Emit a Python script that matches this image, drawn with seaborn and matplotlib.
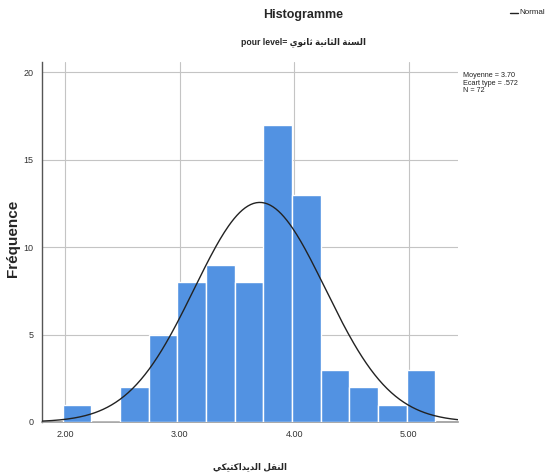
import numpy as np
import pandas as pd
import matplotlib
matplotlib.use("Agg")
import matplotlib.pyplot as plt
import seaborn as sns

# ---- data ----
bin_edges = [1.98, 2.23, 2.48, 2.73, 2.98, 3.23, 3.48, 3.73, 3.98, 4.23, 4.48, 4.73, 4.98, 5.23]
counts = [1, 0, 2, 5, 8, 9, 8, 17, 13, 3, 2, 1, 3]
mean_val = 3.70
sd_val = 0.572
n_val = 72
x_ticks = [2.0, 3.0, 4.0, 5.0]
x_tick_labels = ["2.00", "3.00", "4.00", "5.00"]
y_ticks = [0, 5, 10, 15, 20]
title = "Histogramme"
subtitle_latin = "pour level= "
subtitle_ar = "السنة الثانية ثانوي"
xlabel_ar = "النقل الديداكتيكي"
ylabel = "Fréquence"
legend_label = "Normal"

# ---- simple Arabic shaping (presentation forms, visual order) ----
DUAL = {
    'ب': 0xFE8F, 'ت': 0xFE95, 'ث': 0xFE99, 'ج': 0xFE9D, 'ح': 0xFEA1, 'خ': 0xFEA5,
    'س': 0xFEB1, 'ش': 0xFEB5, 'ص': 0xFEB9, 'ض': 0xFEBD, 'ط': 0xFEC1, 'ظ': 0xFEC5,
    'ع': 0xFEC9, 'غ': 0xFECD, 'ف': 0xFED1, 'ق': 0xFED5, 'ك': 0xFED9, 'ل': 0xFEDD,
    'م': 0xFEE1, 'ن': 0xFEE5, 'ه': 0xFEE9, 'ي': 0xFEF1,
}
RIGHT = {'ا': 0xFE8D, 'د': 0xFEA9, 'ذ': 0xFEAB, 'ر': 0xFEAD, 'ز': 0xFEAF,
         'و': 0xFEED, 'ة': 0xFE93}


def shape(text):
    chars = list(text)
    out = []
    i = 0
    prev_joins = False
    while i < len(chars):
        c = chars[i]
        nxt = chars[i + 1] if i + 1 < len(chars) else ''
        if c == 'ل' and nxt == 'ا':
            out.append(chr(0xFEFC if prev_joins else 0xFEFB))
            prev_joins = False
            i += 2
            continue
        if c in DUAL:
            base = DUAL[c]
            jn = nxt in DUAL or nxt in RIGHT
            if prev_joins and jn:
                f = base + 3
            elif prev_joins:
                f = base + 1
            elif jn:
                f = base + 2
            else:
                f = base
            out.append(chr(f))
            prev_joins = jn
        elif c in RIGHT:
            base = RIGHT[c]
            out.append(chr(base + 1 if prev_joins else base))
            prev_joins = False
        else:
            out.append(c)
            prev_joins = False
        i += 1
    return ''.join(reversed(out))


# ---- build table ----
edges = np.array(bin_edges)
centers = (edges[:-1] + edges[1:]) / 2
df = pd.DataFrame({"score": centers, "count": counts})
binw = edges[1] - edges[0]

sns.set_theme(style="white")
plt.rcParams['font.family'] = ['Liberation Sans', 'DejaVu Sans']

fig = plt.figure(figsize=(5.48, 4.75), dpi=100)
ax = fig.add_axes([0.0766, 0.1116, 0.836 - 0.0766, 0.869 - 0.1116])

sns.histplot(data=df, x="score", weights="count", bins=bin_edges, ax=ax,
             color="#5292e2", alpha=1.0, edgecolor="white", linewidth=1.0, zorder=3)

xs = np.linspace(1.80, 5.43, 300)
ys = n_val * binw * np.exp(-0.5 * ((xs - mean_val) / sd_val) ** 2) / (sd_val * np.sqrt(2 * np.pi))
sns.lineplot(x=xs, y=ys, ax=ax, color="#222222", linewidth=1.0, zorder=4)

ax.set_xlim(1.80, 5.43)
ax.set_ylim(0, 20.57)
ax.set_xticks(x_ticks)
ax.set_xticklabels(x_tick_labels)
ax.set_yticks(y_ticks)
ax.tick_params(axis='both', length=0, labelsize=6.5, colors="#333333", pad=6)
ax.grid(True, color="#c4c4c4", linewidth=0.8, zorder=0)
ax.set_axisbelow(True)
for s in ["top", "right"]:
    ax.spines[s].set_visible(False)
ax.spines["left"].set_color("#555555")
ax.spines["bottom"].set_color("#9a9a9a")
ax.spines["left"].set_linewidth(1.0)
ax.spines["bottom"].set_linewidth(1.2)
ax.set_xlabel("")
ax.set_ylabel("")

fig.text(0.553, 0.968, title, ha="center", va="center", fontsize=9, fontweight="bold")
fig.text(0.553, 0.912, subtitle_latin + shape(subtitle_ar), ha="center", va="center",
         fontsize=6.2, fontweight="bold")
fig.text(0.024, 0.499, ylabel, ha="center", va="center", rotation=90,
         fontsize=11, fontweight="bold")
fig.text(0.456, 0.017, shape(xlabel_ar), ha="center", va="center",
         fontsize=6.2, fontweight="bold")
fig.text(0.845, 0.848,
         f"Moyenne = {mean_val:.2f}\nEcart type = {str(f'{sd_val:.3f}').lstrip('0')}\nN = {n_val}",
         ha="left", va="top", fontsize=5.2, linespacing=1.1, color="#222222")

# legend entry
fig.add_artist(plt.Line2D([0.930, 0.946], [0.973, 0.973], color="#222222", linewidth=1.0))
fig.text(0.947, 0.973, legend_label, ha="left", va="center", fontsize=5.8, color="#222222")

fig.savefig("out.png", dpi=100)
